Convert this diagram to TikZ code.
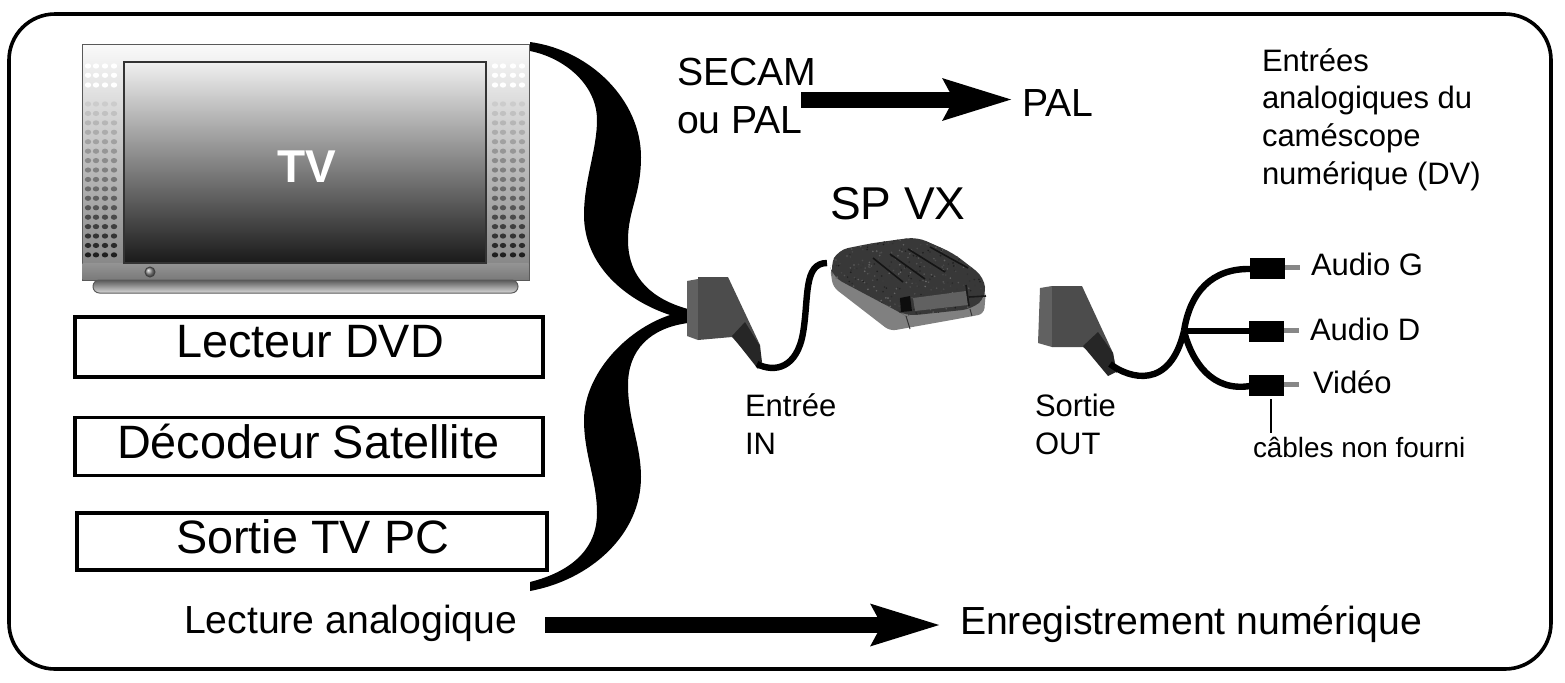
\documentclass[tikz,border=0pt]{standalone}
\usepackage{fontspec}
\setmainfont{Liberation Sans}
\usetikzlibrary{arrows.meta}
\newcommand{\fsz}[1]{\fontsize{#1}{#1}\selectfont}
\tikzset{
  lbl/.style={anchor=base west,inner sep=0pt,outer sep=0pt,text=black},
  hugetxt/.style={lbl,font=\fsz{23.4}},
  bigtxt/.style={lbl,font=\fsz{19.6}},
  smalltxt/.style={lbl,font=\fsz{15.5}},
  tinytxt/.style={lbl,font=\fsz{13.95}},
  srcbox/.style={draw=black,line width=1.6pt,fill=white,inner sep=0pt},
  cable/.style={draw=black,line width=3.2pt},
  bigarrow/.style={draw=black,line width=8pt,-{Stealth[length=34pt,width=19.5pt,inset=4.5pt]}},
  rca/.style={fill=black},
  rcatip/.style={fill=black!47},
  plugbody/.style={fill=black!70},
  plugtab/.style={fill=black!62},
  plugneck/.style={fill=black!85},
}
\begin{document}
\begin{tikzpicture}[x=0.5pt,y=-0.5pt]
\useasboundingbox (0,0) rectangle (1565,682);
\fill[white] (0,0) rectangle (1565,682);
\draw[black,line width=1.8pt,rounded corners=23pt] (9,14) rectangle (1551,669);

% ---- TV
\shade[top color=black!2,bottom color=black!50,draw=black!65,line width=.5pt] (82,44) rectangle (529,280);
\foreach \xx in {88,96,105,114,495,503,513,522}{
  \foreach \yy in {66,75.3,85}{
    \fill[white] (\xx,\yy) ellipse (3.2 and 2.6);
  }
  \foreach \k in {0,...,16}{
    \pgfmathsetmacro{\yy}{104+9.43*\k}
    \pgfmathsetmacro{\gv}{0.8-0.68*\k/16}
    \definecolor{dotc}{gray}{\gv}
    \fill[dotc] (\xx,\yy) ellipse (3.2 and 2.6);
  }
}
\shade[top color=black!42,bottom color=black!52] (82.5,263) rectangle (528.5,279.5);
\shade[top color=black!6,middle color=black!57,bottom color=black!90,draw=black!80,line width=.6pt] (124,62) rectangle (486,263);
\shade[top color=black!65,bottom color=black!15,draw=black!65,line width=.5pt,rounded corners=3.2pt] (93,280) rectangle (518,293);
\shade[ball color=black!45,draw=black!75,line width=.5pt] (150,272) circle (5);
\node[lbl,font=\bfseries\fsz{23},text=white] (tvlabel) at (277,182) {TV};

% ---- source boxes
\node[srcbox,minimum width=234pt,minimum height=30pt] (dvd) at (309,347) {};
\node[srcbox,minimum width=234pt,minimum height=29pt] (sat) at (309,446.5) {};
\node[srcbox,minimum width=235pt,minimum height=28.5pt] (pc) at (312,541.5) {};
\node[hugetxt] (dvdt) at (176,357) {Lecteur DVD};
\node[hugetxt] (satt) at (117,458) {Décodeur Satellite};
\node[hugetxt] (pct) at (176,553) {Sortie TV PC};

% ---- brace
\fill[black]
  (530,42) .. controls (590,50) and (641,100) .. (641,157)
  .. controls (641,195) and (628,210) .. (628,240)
  .. controls (628,280) and (655,300) .. (688,309)
  -- (688,323)
  .. controls (650,328) and (628,350) .. (628,385)
  .. controls (628,420) and (641,445) .. (641,477)
  .. controls (641,535) and (590,580) .. (530,591)
  -- (530,582)
  .. controls (570,572) and (597,550) .. (597,513)
  .. controls (597,480) and (584,455) .. (584,420)
  .. controls (584,375) and (625,330) .. (670,315)
  .. controls (625,300) and (584,265) .. (584,215)
  .. controls (584,180) and (597,150) .. (597,120)
  .. controls (597,85) and (565,58) .. (530,51)
  -- cycle;

% ---- SCART plug IN
\fill[plugtab] (687,281) -- (698,279) -- (698,340) -- (687,336) -- cycle;
\fill[plugbody] (698,277) -- (728,277) -- (760,345) -- (760,368) -- (732,337) -- (698,340) -- cycle;
\fill[plugneck] (732,336) -- (745,322) -- (760,346) -- (762,362) -- (758,369) -- cycle;
\coordinate (inplug) at (757,364);
\coordinate (devport) at (827,263);
\draw[cable] (inplug) .. controls (775,373) and (797,368) .. (803,333) .. controls (809,298) and (803,263) .. (devport);

% ---- SP VX box
\fill[black!50,rounded corners=3pt] (830,268) -- (833,287) -- (890,331) -- (957,319) -- (984,314) -- (986,290) -- (900,300) -- cycle;
\fill[black!78,rounded corners=5pt] (830,266) -- (838,250) -- (873,243) -- (917,237) -- (953,253) -- (984,277) -- (986,297) -- (972,309) -- (906,316) -- (899,312) -- (833,277) -- cycle;
\begin{scope}
\clip (830,266) -- (838,250) -- (873,243) -- (917,237) -- (953,253) -- (984,277) -- (986,297) -- (972,309) -- (906,316) -- (899,312) -- (833,277) -- cycle;
\pgfmathsetseed{7}
\foreach \n in {1,...,450}{
  \pgfmathsetmacro{\px}{828+160*rnd}
  \pgfmathsetmacro{\py}{235+85*rnd}
  \pgfmathsetmacro{\gv}{0.1+0.32*rnd}
  \definecolor{dotc}{gray}{\gv}
  \fill[dotc] (\px,\py) circle (0.9);
}
\end{scope}
\draw[black!92,line width=.8pt] (873,258) -- (903,282) (890,254) -- (925,279) (908,249) -- (945,272) (930,247) -- (968,268);
\fill[black!95] (900,298) -- (910,296) -- (912,311) -- (901,312) -- cycle;
\fill[black!62] (913,298) -- (966,291) -- (968,305) -- (915,311) -- cycle;
\draw[black!90,line width=.8pt] (966,285) -- (969,306) (969,297) -- (986,296);
\draw[black!80,line width=.5pt] (906,316) -- (910,329) (970,309) -- (972,316);

% ---- SCART plug OUT
\fill[plugtab] (1040,288) -- (1052,286) -- (1052,347) -- (1038,343) -- cycle;
\fill[plugbody] (1052,286) -- (1082,286) -- (1113,353) -- (1117,373) -- (1083,347) -- (1052,347) -- cycle;
\fill[plugneck] (1083,346) -- (1098,332) -- (1113,353) -- (1116,372) -- (1108,376) -- cycle;

% ---- RCA plugs
\fill[rca] (1250,258) rectangle (1285,279);
\fill[rcatip] (1285,265) rectangle (1300,270);
\fill[rca] (1249,321) rectangle (1284,342);
\fill[rcatip] (1284,328) rectangle (1299,333);
\fill[rca] (1249,375) rectangle (1284,396);
\fill[rcatip] (1284,382) rectangle (1299,387);
\coordinate (outplug) at (1110,364);
\coordinate (split) at (1184,331);
\coordinate (plugG) at (1251,269);
\coordinate (plugD) at (1250,331);
\coordinate (plugV) at (1250,386);
\draw[cable] (outplug) .. controls (1130,379) and (1170,390) .. (split);
\draw[cable] (split) .. controls (1190,292) and (1212,268) .. (plugG);
\draw[cable] (split) -- (plugD);
\draw[cable] (split) .. controls (1192,362) and (1212,392) .. (plugV);
\coordinate (noteTop) at (1271,399);
\coordinate (noteBot) at (1271,433);
\draw[black,line width=1.1pt] (noteTop) -- (noteBot);

% ---- arrows
\coordinate (a1s) at (801,99.5);
\coordinate (a1e) at (1013,99.5);
\draw[bigarrow] (a1s) -- (a1e);
\coordinate (a2s) at (545,625);
\coordinate (a2e) at (941,625);
\draw[bigarrow] (a2s) -- (a2e);

% ---- labels
\node[bigtxt] (secam) at (677,85) {SECAM};
\node[bigtxt] (oupal) at (677,133) {ou PAL};
\node[bigtxt] (pal) at (1022,116) {PAL};
\node[hugetxt,font=\fsz{23}] (spvx) at (830,219) {SP VX};
\node[smalltxt] (e1) at (1262,71) {Entrées};
\node[smalltxt] (e2) at (1262,108) {analogiques du};
\node[smalltxt] (e3) at (1262,146) {caméscope};
\node[smalltxt] (e4) at (1262,184) {numérique (DV)};
\node[smalltxt] (ag) at (1311,275) {Audio G};
\node[smalltxt] (ad) at (1310,340) {Audio D};
\node[smalltxt] (vd) at (1313,393) {Vidéo};
\node[tinytxt] (cb) at (1253,457) {câbles non fourni};
\node[smalltxt] (en) at (745,416) {Entrée};
\node[smalltxt] (in) at (745,454) {IN};
\node[smalltxt] (so) at (1035,416) {Sortie};
\node[smalltxt] (ou) at (1035,454) {OUT};
\node[bigtxt] (la) at (184,633) {Lecture analogique};
\node[bigtxt] (en2) at (960,634) {Enregistrement numérique};
\end{tikzpicture}
\end{document}
